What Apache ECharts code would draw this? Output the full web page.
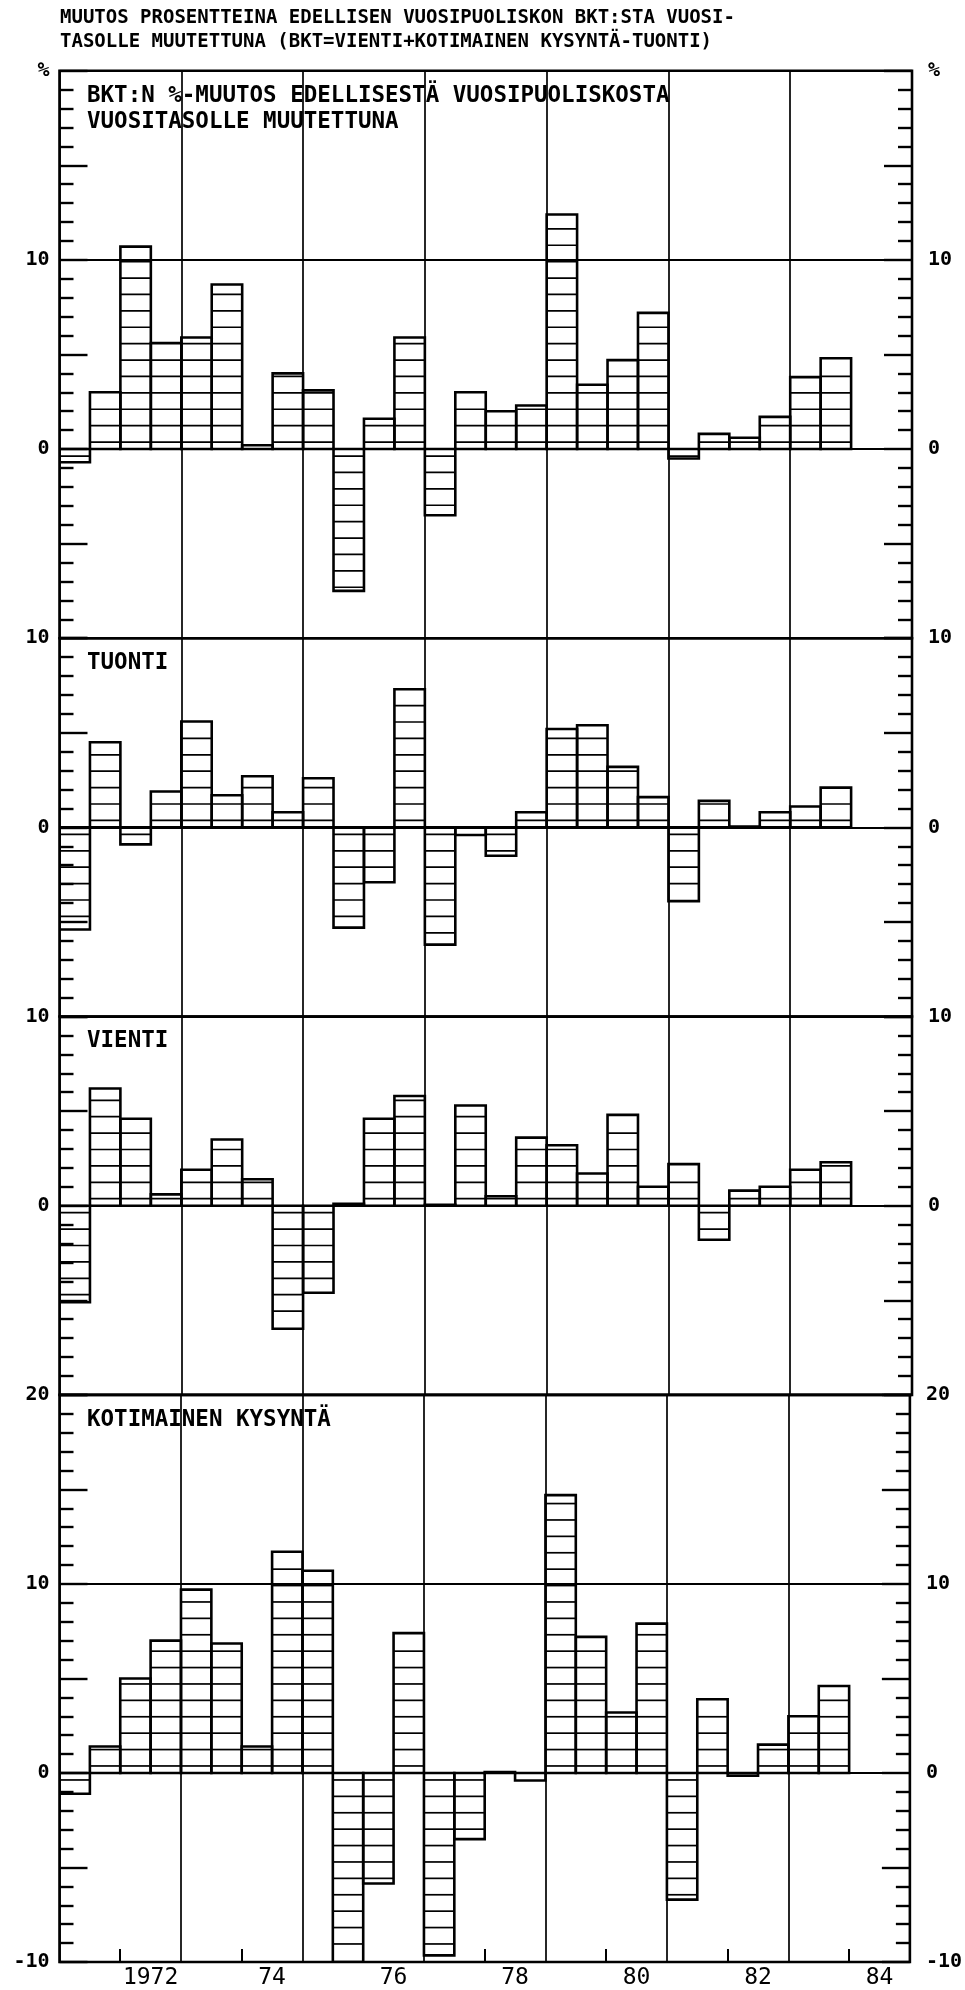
<!DOCTYPE html>
<html>
<head>
<meta charset="utf-8">
<script src="https://cdn.jsdelivr.net/npm/echarts@6/dist/echarts.min.js"></script>
<style>html,body{margin:0;padding:0;background:#fff}#c{width:965px;height:1990px}</style>
</head>
<body>
<div id="c"></div>
<script>
// ---- data ----
const periods = ['1971 I','1971 II','1972 I','1972 II','1973 I','1973 II','1974 I','1974 II',
  '1975 I','1975 II','1976 I','1976 II','1977 I','1977 II','1978 I','1978 II','1979 I','1979 II',
  '1980 I','1980 II','1981 I','1981 II','1982 I','1982 II','1983 I','1983 II'];
const bkt        = [-0.7, 3.0, 10.7, 5.6, 5.9, 8.7, 0.2, 4.0, 3.1, -7.5, 1.6, 5.9, -3.5, 3.0, 2.0, 2.3, 12.4, 3.4, 4.7, 7.2, -0.5, 0.8, 0.6, 1.7, 3.8, 4.8];
const tuonti     = [-5.4, 4.5, -0.9, 1.9, 5.6, 1.7, 2.7, 0.8, 2.6, -5.3, -2.9, 7.3, -6.2, -0.4, -1.5, 0.8, 5.2, 5.4, 3.2, 1.6, -3.9, 1.4, 0.05, 0.8, 1.1, 2.1];
const vienti     = [-5.1, 6.2, 4.6, 0.6, 1.9, 3.5, 1.4, -6.5, -4.6, 0.1, 4.6, 5.8, 0.05, 5.3, 0.5, 3.6, 3.2, 1.7, 4.8, 1.0, 2.2, -1.8, 0.8, 1.0, 1.9, 2.3];
const kotimainen = [-1.1, 1.4, 5.0, 7.0, 9.7, 6.85, 1.4, 11.7, 10.7, -10.0, -5.85, 7.4, -9.65, -3.5, 0.05, -0.4, 14.7, 7.2, 3.2, 7.9, -6.7, 3.9, -0.15, 1.5, 3.0, 4.6];
const years = ['1971','1972','1973','1974','1975','1976','1977','1978','1979','1980','1981','1982','1983','1984'];
const xTickYears  = ['1972','1974','1976','1978','1980','1982','1984'];
const xTickLabels = ['1972','74','76','78','80','82','84'];
const panelNames = ['BKT:N %-MUUTOS EDELLISESTÄ VUOSIPUOLISKOSTA\nVUOSITASOLLE MUUTETTUNA','TUONTI','VIENTI','KOTIMAINEN KYSYNTÄ'];
const mainTitle = 'MUUTOS PROSENTTEINA EDELLISEN VUOSIPUOLISKON BKT:STA VUOSI-\nTASOLLE MUUTETTUNA (BKT=VIENTI+KOTIMAINEN KYSYNTÄ-TUONTI)';
const panelRanges = [[-10,20],[-10,10],[-10,10],[-10,20]];
const panelValues = [bkt, tuonti, vienti, kotimainen];

// ---- layout / style ----
const FONT = 'DejaVu Sans Mono';
const LEFT = 59.5, RIGHT = 53, TOP = 70.7, BOTTOM = 1962.4;
const spans = panelRanges.map(r => r[1] - r[0]);
const UNIT = (BOTTOM - TOP) / spans.reduce((a, b) => a + b, 0);
const gridTops = [];
{ let t = TOP; spans.forEach(s => { gridTops.push(t); t += s * UNIT; }); }
const HATCH = 16.4, HATCH0 = 7;

function xOf(p) {
  const [y, h] = p.split(' ');
  return +y + (h === 'II' ? 0.5 : 0) + 0.25;
}

function renderBar(params, api) {
  const x = api.value(0), v = api.value(1);
  const a = api.coord([x - 0.25, 0]);
  const b = api.coord([x + 0.25, v]);
  const x0 = a[0], x1 = b[0], y0 = a[1], y1 = b[1];
  const h = Math.abs(y1 - y0);
  const dir = y1 < y0 ? -1 : 1;
  const children = [{
    type: 'rect',
    shape: { x: x0, y: Math.min(y0, y1), width: x1 - x0, height: h },
    style: { fill: 'none', stroke: '#000', lineWidth: 2.6 }
  }];
  for (let d = HATCH0; d < h - 2; d += HATCH) {
    children.push({ type: 'line', shape: { x1: x0, y1: y0 + dir * d, x2: x1, y2: y0 + dir * d },
      style: { stroke: '#000', lineWidth: 1.7 } });
  }
  return { type: 'group', children };
}

function yFmt(g) {
  const [mn, mx] = panelRanges[g];
  return v => {
    if (v % 10 !== 0) return '';
    if (g === 0 && v === mx) return '%';
    if (g < 3 && v === mn) return '';
    return String(v);
  };
}

const grids = [], xAxes = [], yAxes = [], series = [];
const titles = [{
  text: mainTitle, left: 60, top: 6, padding: 0,
  textStyle: { fontFamily: FONT, fontSize: 19, fontWeight: 'bold', lineHeight: 24, color: '#000' }
}];

panelRanges.forEach((r, g) => {
  grids.push({ left: LEFT, right: RIGHT, top: gridTops[g], height: spans[g] * UNIT,
    show: true, borderColor: '#000', borderWidth: 2.6, backgroundColor: 'transparent' });
  xAxes.push({ type: 'value', gridIndex: g, min: 1971, max: 1985, interval: 2,
    position: g === 3 ? 'top' : 'bottom',
    axisLine: { show: false, onZero: false }, axisTick: { show: false }, axisLabel: { show: false },
    splitLine: { show: true, lineStyle: { color: '#000', width: 1.7 } } });
  const tickAxis = (pos, margin) => ({
    type: 'value', gridIndex: g, min: r[0], max: r[1], interval: 5, position: pos,
    axisLine: { show: false, onZero: false },
    axisTick: { show: true, inside: true, length: 28, lineStyle: { color: '#000', width: 2.4 } },
    minorTick: { show: true, splitNumber: 5, length: 14, lineStyle: { color: '#000', width: 2.4 } },
    splitLine: { show: false }, minorSplitLine: { show: false },
    axisLabel: { show: true, showMinLabel: true, showMaxLabel: true, formatter: yFmt(g), margin,
      fontFamily: FONT, fontSize: 20, fontWeight: 'bold', color: '#000' }
  });
  yAxes.push(tickAxis('left', 10));
  yAxes.push(tickAxis('right', 16));
  yAxes.push({ type: 'value', gridIndex: g, min: r[0], max: r[1], interval: 10, position: 'left', offset: 0,
    axisLine: { show: false, onZero: false }, axisTick: { show: false }, axisLabel: { show: false },
    splitLine: { show: true, lineStyle: { color: '#000', width: 1.9 } } });
  series.push({ type: 'custom', xAxisIndex: g, yAxisIndex: g * 3, clip: true, silent: true,
    renderItem: renderBar,
    data: panelValues[g].map((v, i) => [xOf(periods[i]), v]) });
  titles.push({ text: panelNames[g], left: 87, top: gridTops[g] + 12, padding: 0,
    textStyle: { fontFamily: FONT, fontSize: 22.5, fontWeight: 'bold', lineHeight: 26, color: '#000' } });
});

// bottom category axis for year labels and even-year ticks
xAxes.push({ type: 'category', gridIndex: 3, data: years, boundaryGap: true, position: 'bottom',
  axisLine: { show: false, onZero: false },
  axisTick: { show: true, inside: true, length: 13, interval: (i) => i % 2 === 1,
    lineStyle: { color: '#000', width: 2 } },
  axisLabel: { show: true, interval: (i) => i % 2 === 1, margin: 5,
    formatter: v => { const k = xTickYears.indexOf(v); return k >= 0 ? xTickLabels[k] : ''; },
    fontFamily: FONT, fontSize: 23, color: '#000' },
  splitLine: { show: false } });

const chart = echarts.init(document.getElementById('c'), null, { renderer: 'canvas' });
chart.setOption({
  animation: false,
  backgroundColor: '#fff',
  title: titles,
  grid: grids,
  xAxis: xAxes,
  yAxis: yAxes,
  series
});
</script>
</body>
</html>
